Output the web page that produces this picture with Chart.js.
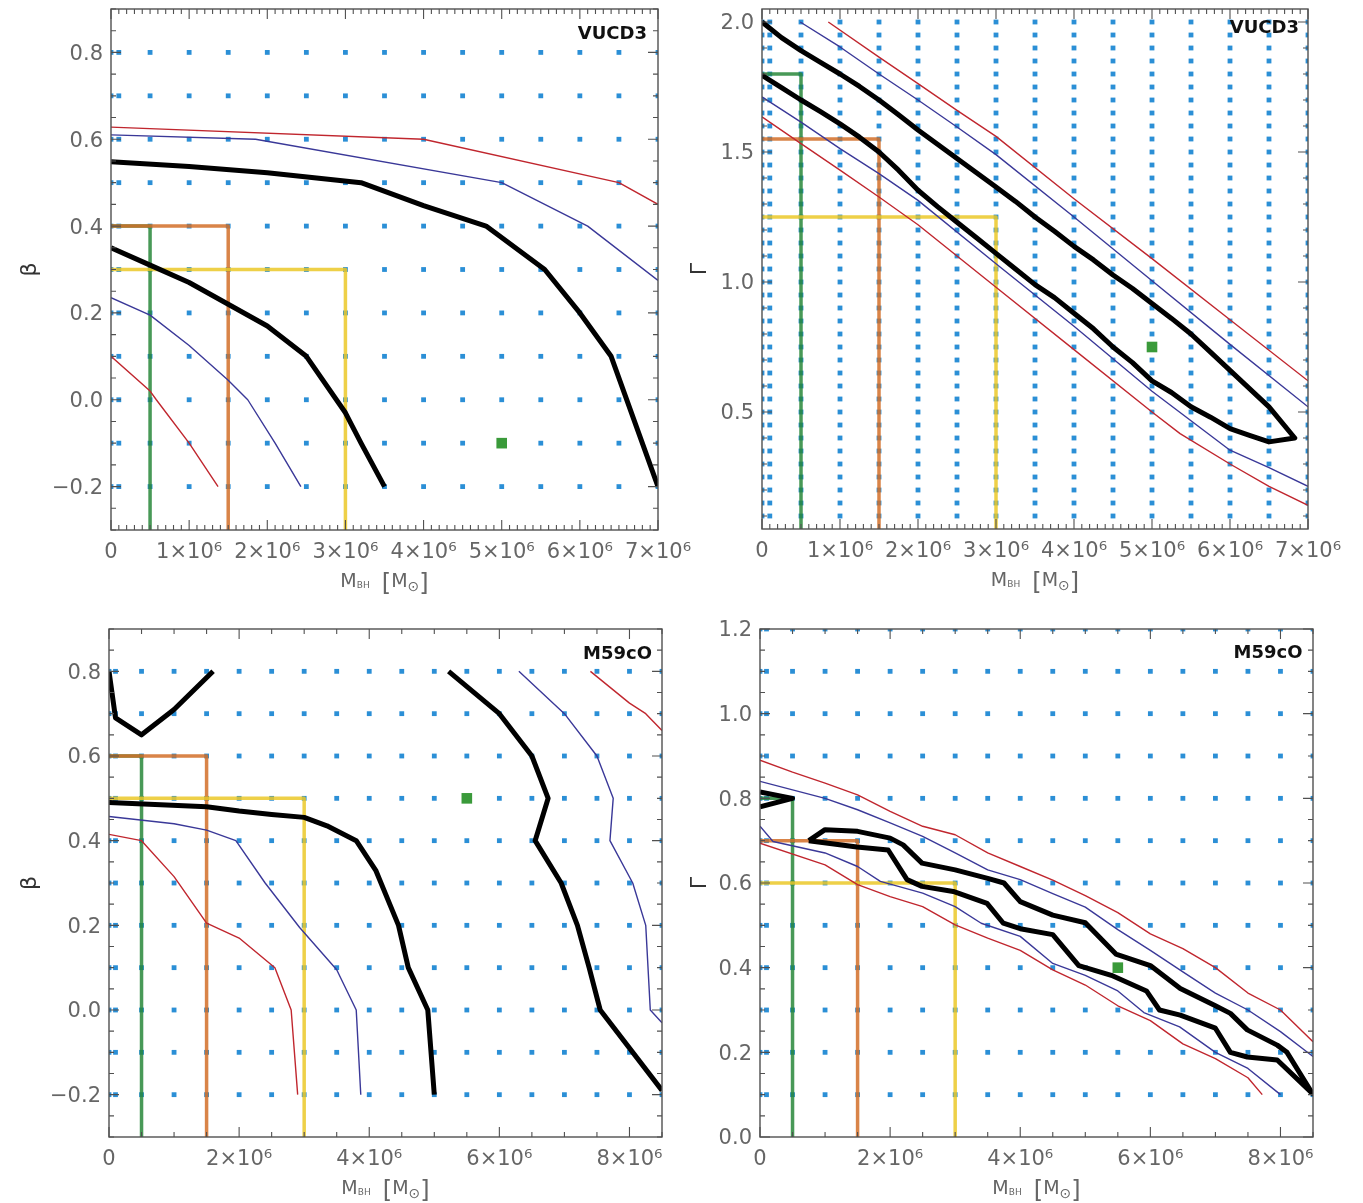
<!DOCTYPE html>
<html>
<head>
<meta charset="utf-8">
<title>VUCD3 / M59cO model grids</title>
<script src="https://cdn.jsdelivr.net/npm/chart.js@4.4.1/dist/chart.umd.min.js"></script>
<style>
  html, body { margin: 0; padding: 0; background: #fff; }
  #wrap { position: relative; width: 1363px; height: 1203px; overflow: hidden; }
  #wrap canvas { position: absolute; left: 0; top: 0; }
</style>
</head>
<body>
<div id="wrap">
  <canvas id="vucd3Beta" width="1363" height="1203"></canvas>
  <canvas id="vucd3Gamma" width="1363" height="1203"></canvas>
  <canvas id="m59coBeta" width="1363" height="1203"></canvas>
  <canvas id="m59coGamma" width="1363" height="1203"></canvas>
</div>
<script>
///////////////////////////////// DATA /////////////////////////////////////
// black hole masses are in units of 1e6 Msun

// model grid (blue dots)
const vucd3MassGrid = [0, 0.1, 0.5, 1, 1.5, 2, 2.5, 3, 3.5, 4, 4.5, 5, 5.5, 6, 6.5, 7];
const m59coMassGrid = [0, 0.1, 0.5, 1, 1.5, 2, 2.5, 3, 3.5, 4, 4.5, 5, 5.5, 6, 6.5, 7, 7.5, 8, 8.5];
const betaGrid = [-0.2, -0.1, 0, 0.1, 0.2, 0.3, 0.4, 0.5, 0.6, 0.7, 0.8];
const vucd3GammaGrid = [0.1, 0.15, 0.2, 0.25, 0.3, 0.35, 0.4, 0.45, 0.5, 0.55, 0.6, 0.65, 0.7,
  0.75, 0.8, 0.85, 0.9, 0.95, 1.0, 1.05, 1.1, 1.15, 1.2, 1.25, 1.3, 1.35, 1.4, 1.45, 1.5,
  1.55, 1.6, 1.65, 1.7, 1.75, 1.8, 1.85, 1.9, 1.95, 2.0];
const m59coGammaGrid = [0.1, 0.2, 0.3, 0.4, 0.5, 0.6, 0.7, 0.8, 0.9, 1.0, 1.1, 1.2];

// tick labels
const vucd3MassTicks = [0, 1, 2, 3, 4, 5, 6, 7];
const m59coMassTicks = [0, 2, 4, 6, 8];
const betaTicks = [-0.2, 0, 0.2, 0.4, 0.6, 0.8];
const vucd3GammaTicks = [0.5, 1.0, 1.5, 2.0];
const m59coGammaTicks = [0, 0.2, 0.4, 0.6, 0.8, 1.0, 1.2];

// best fit models (green squares)
const vucd3BetaBest = [5, -0.1];
const vucd3GammaBest = [5, 0.75];
const m59coBetaBest = [5.5, 0.5];
const m59coGammaBest = [5.5, 0.4];

// prior boxes [mass, value]
const vucd3BetaGreen = [[0, 0.4], [0.5, 0.4], [0.5, -0.3]];
const vucd3BetaOrange = [[0, 0.4], [1.5, 0.4], [1.5, -0.3]];
const vucd3BetaYellow = [[0, 0.3], [3, 0.3], [3, -0.3]];
const vucd3GammaGreen = [[0, 1.8], [0.5, 1.8], [0.5, 0.05]];
const vucd3GammaOrange = [[0, 1.55], [1.5, 1.55], [1.5, 0.05]];
const vucd3GammaYellow = [[0, 1.25], [3, 1.25], [3, 0.05]];
const m59coBetaGreen = [[0, 0.6], [0.5, 0.6], [0.5, -0.3]];
const m59coBetaOrange = [[0, 0.6], [1.5, 0.6], [1.5, -0.3]];
const m59coBetaYellow = [[0, 0.5], [3, 0.5], [3, -0.3]];
const m59coGammaGreen = [[0, 0.8], [0.5, 0.8], [0.5, 0]];
const m59coGammaOrange = [[0, 0.7], [1.5, 0.7], [1.5, 0]];
const m59coGammaYellow = [[0, 0.6], [3, 0.6], [3, 0]];

// VUCD3, beta: confidence contours
const vucd3BetaBlackIn = [[0, 0.35], [0.5, 0.31], [1.0, 0.27], [1.5, 0.22], [2.0, 0.17], [2.5, 0.1], [3.0, -0.03], [3.2, -0.1], [3.5, -0.2]];
const vucd3BetaBlackOut = [[0, 0.548], [1, 0.537], [2, 0.523], [3.2, 0.5], [4, 0.447], [4.8, 0.4], [5.55, 0.3], [6.0, 0.2], [6.4, 0.1], [7.0, -0.2]];
const vucd3BetaBlueIn = [[0, 0.235], [0.5, 0.195], [1.0, 0.125], [1.5, 0.045], [1.75, 0.0], [2.1, -0.1], [2.43, -0.2]];
const vucd3BetaBlueOut = [[0, 0.61], [1.85, 0.6], [5.0, 0.5], [6.1, 0.4], [7.0, 0.275]];
const vucd3BetaRedIn = [[0, 0.1], [0.5, 0.02], [0.58, 0.0], [1.0, -0.1], [1.37, -0.2]];
const vucd3BetaRedOut = [[0, 0.628], [4.0, 0.6], [6.5, 0.5], [7.0, 0.45]];

// VUCD3, gamma
const vucd3GammaBlack = [[0, 2.0], [0.25, 1.94], [0.5, 1.89], [0.75, 1.845], [1, 1.8], [1.25, 1.752], [1.5, 1.7],
  [1.75, 1.643], [2, 1.585], [2.25, 1.53], [2.5, 1.475], [2.75, 1.42], [3, 1.365], [3.25, 1.31], [3.5, 1.25],
  [3.75, 1.195], [4, 1.137], [4.25, 1.085], [4.5, 1.027], [4.75, 0.975], [5, 0.917], [5.25, 0.86], [5.5, 0.8],
  [5.75, 0.73], [6, 0.66], [6.25, 0.59], [6.5, 0.52], [6.83, 0.4], [6.5, 0.385], [6.25, 0.41], [6.0, 0.436],
  [5.75, 0.48], [5.5, 0.52], [5.25, 0.575], [5.0, 0.62], [4.75, 0.69], [4.5, 0.75], [4.25, 0.82], [4.0, 0.88],
  [3.75, 0.94], [3.5, 0.99], [3.25, 1.05], [3.0, 1.11], [2.75, 1.17], [2.5, 1.23], [2.25, 1.29], [2.0, 1.353],
  [1.75, 1.43], [1.5, 1.5], [1.25, 1.557], [1.0, 1.608], [0.75, 1.655], [0.5, 1.7], [0.25, 1.748], [0, 1.795]];
const vucd3GammaBlueUp = [[0.49, 2.0], [1, 1.904], [1.5, 1.8], [2, 1.7], [2.5, 1.596], [3, 1.49], [4, 1.25], [5, 1.005], [6, 0.76], [7, 0.52]];
const vucd3GammaRedUp = [[0.85, 2.0], [1.5, 1.865], [2, 1.763], [2.5, 1.66], [3, 1.56], [4, 1.32], [5, 1.09], [6, 0.855], [7, 0.62]];
const vucd3GammaBlueLow = [[0, 1.712], [0.5, 1.615], [1, 1.513], [1.5, 1.417], [2, 1.314], [3, 1.07], [4, 0.83], [5, 0.58], [6, 0.353], [6.5, 0.286], [7, 0.214]];
const vucd3GammaRedLow = [[0, 1.635], [0.5, 1.532], [1, 1.43], [1.5, 1.327], [2, 1.22], [3, 0.98], [4, 0.74], [5, 0.5], [5.36, 0.417], [6, 0.3], [6.5, 0.214], [7, 0.141]];

// M59cO, beta
const m59coBetaBlackV = [[0, 0.8], [0.1, 0.69], [0.5, 0.65], [1.0, 0.71], [1.6, 0.8]];
const m59coBetaBlackIn = [[0, 0.49], [1.5, 0.48], [2.0, 0.47], [2.5, 0.462], [3.0, 0.455], [3.35, 0.435], [3.8, 0.4], [4.1, 0.33], [4.45, 0.2], [4.6, 0.1], [4.9, 0.0], [5.0, -0.2]];
const m59coBetaBlackOut = [[5.22, 0.8], [6.0, 0.7], [6.5, 0.6], [6.75, 0.5], [6.55, 0.4], [6.95, 0.3], [7.2, 0.2], [7.38, 0.1], [7.55, 0.0], [8.5, -0.19]];
const m59coBetaBlueIn = [[0, 0.457], [1, 0.44], [1.5, 0.425], [1.95, 0.4], [2.4, 0.3], [2.93, 0.195], [3.5, 0.095], [3.8, 0.0], [3.87, -0.2]];
const m59coBetaBlueOut = [[6.3, 0.8], [7.0, 0.7], [7.5, 0.6], [7.75, 0.5], [7.7, 0.4], [8.05, 0.3], [8.25, 0.2], [8.32, 0.0], [8.5, -0.03]];
const m59coBetaRedIn = [[0, 0.415], [0.5, 0.4], [1.0, 0.315], [1.5, 0.205], [2.0, 0.17], [2.55, 0.1], [2.8, 0.0], [2.9, -0.2]];
const m59coBetaRedOut = [[7.4, 0.8], [8.0, 0.725], [8.25, 0.7], [8.5, 0.66]];

// M59cO, gamma
const m59coGammaBlackWedge = [[0, 0.815], [0.5, 0.8], [0, 0.78]];
const m59coGammaBlack = [[0.75, 0.7], [1.0, 0.726], [1.5, 0.722], [2.0, 0.706], [2.2, 0.69], [2.49, 0.647], [3.0, 0.631],
  [3.5, 0.611], [3.75, 0.6], [4.0, 0.556], [4.5, 0.524], [5.0, 0.506], [5.47, 0.432], [6.0, 0.405], [6.46, 0.351],
  [7.0, 0.31], [7.23, 0.292], [7.49, 0.253], [7.95, 0.217], [8.1, 0.2], [8.49, 0.103], [7.95, 0.182], [7.49, 0.189],
  [7.23, 0.2], [7.0, 0.257], [6.46, 0.288], [6.14, 0.3], [5.94, 0.345], [5.4, 0.382], [4.9, 0.405], [4.5, 0.478],
  [4.0, 0.492], [3.74, 0.505], [3.49, 0.552], [2.97, 0.58], [2.49, 0.592], [2.26, 0.608], [1.97, 0.678], [1.49, 0.685], [0.75, 0.7]];
const m59coGammaBlueUp = [[0, 0.84], [1, 0.8], [1.5, 0.773], [2, 0.742], [2.5, 0.71], [3, 0.671], [3.5, 0.631], [4, 0.608], [4.5, 0.575], [5, 0.543], [5.5, 0.49], [6, 0.441], [6.5, 0.39], [7, 0.34], [7.5, 0.3], [8, 0.249], [8.5, 0.19]];
const m59coGammaRedUp = [[0, 0.89], [0.5, 0.862], [1, 0.836], [1.5, 0.808], [2, 0.769], [2.5, 0.734], [3, 0.714], [3.5, 0.671], [4, 0.639], [4.5, 0.607], [5, 0.57], [5.5, 0.53], [6, 0.48], [6.5, 0.445], [7, 0.4], [7.5, 0.34], [8, 0.3], [8.5, 0.225]];
const m59coGammaBlueLow = [[0, 0.734], [0.2, 0.698], [1, 0.671], [1.5, 0.639], [1.85, 0.604], [2.5, 0.576], [3, 0.544], [3.4, 0.505], [4, 0.474], [4.5, 0.41], [5, 0.382], [5.5, 0.345], [5.9, 0.294], [6.45, 0.26], [7, 0.2], [7.5, 0.162], [8, 0.1]];
const m59coGammaRedLow = [[0, 0.694], [1, 0.643], [1.5, 0.596], [2, 0.568], [2.5, 0.544], [3, 0.501], [3.5, 0.47], [4, 0.441], [4.5, 0.395], [5, 0.359], [5.5, 0.31], [6, 0.275], [6.5, 0.22], [7, 0.185], [7.5, 0.14], [7.72, 0.1]];

///////////////////////////////// STYLE /////////////////////////////////////
const FONT = "'DejaVu Sans', sans-serif";
const TEXT = '#666666';
const AXIS = '#505050';
const DOT = '#2b8fd6';
const BLACK = '#000000';
const BLUE = '#3a3898';
const RED = '#c0262e';
const GREEN = 'rgba(40,135,58,0.85)';
const ORANGE = 'rgba(210,110,40,0.85)';
const YELLOW = 'rgba(235,200,40,0.85)';
const BEST = '#3a9a3a';

///////////////////////////////// HELPERS /////////////////////////////////////
const pts = arr => arr.map(([x, y]) => ({x, y}));

function gridDots(xs, ys) {
  const data = [];
  ys.forEach(y => xs.forEach(x => data.push({x, y})));
  return {data, pointStyle: 'rect', pointRadius: 3.4, backgroundColor: DOT, borderWidth: 0, clip: 0, order: 10};
}

function curve(arr, color, width, order) {
  return {data: pts(arr), showLine: true, borderColor: color, borderWidth: width,
          pointRadius: 0, borderJoinStyle: 'round', order};
}

function steps(min, max, step) {
  const out = [];
  for (let v = Math.ceil(min / step - 1e-6) * step; v <= max + 1e-6; v += step) out.push(v);
  return out;
}

// IDL style frame: inward ticks on all four sides, axis title with subscripts, object name
function idlAxes(cfg) {
  return {
    id: 'idlAxes',
    afterDatasetsDraw(chart) {
      const {ctx, chartArea: a} = chart;
      const xs = chart.scales.x, ys = chart.scales.y;
      ctx.save();
      ctx.strokeStyle = AXIS;
      ctx.lineWidth = 1.1;
      ctx.beginPath();
      const xTick = (v, len) => {
        const p = xs.getPixelForValue(v);
        ctx.moveTo(p, a.bottom); ctx.lineTo(p, a.bottom - len);
        ctx.moveTo(p, a.top); ctx.lineTo(p, a.top + len);
      };
      const yTick = (v, len) => {
        const p = ys.getPixelForValue(v);
        ctx.moveTo(a.left, p); ctx.lineTo(a.left + len, p);
        ctx.moveTo(a.right, p); ctx.lineTo(a.right - len, p);
      };
      steps(xs.min, xs.max, cfg.xMinor).forEach(v => xTick(v, 5));
      cfg.xMajor.forEach(v => xTick(v, 10));
      steps(ys.min, ys.max, cfg.yMinor).forEach(v => yTick(v, 5));
      cfg.yMajor.forEach(v => yTick(v, 10));
      ctx.stroke();
      ctx.lineWidth = 1.4;
      ctx.strokeRect(a.left, a.top, a.right - a.left, a.bottom - a.top);

      // object name
      ctx.fillStyle = '#111';
      ctx.font = `bold 18px ${FONT}`;
      ctx.textAlign = 'right';
      ctx.textBaseline = 'middle';
      ctx.fillText(cfg.name, a.right - cfg.nameDx, a.top + cfg.nameDy);
      ctx.restore();
    },
    afterDraw(chart) {
      const {ctx, chartArea: a} = chart;
      const parts = [
        {t: 'M', f: `19px ${FONT}`, dy: 0},
        {t: 'BH', f: `9px ${FONT}`, dy: 1},
        {t: '  ', f: `19px ${FONT}`, dy: 0},
        {t: '[', f: `24px ${FONT}`, dy: 4},
        {t: 'M', f: `19px ${FONT}`, dy: 0},
        {t: '⊙', f: `14px ${FONT}`, dy: 4},
        {t: ']', f: `24px ${FONT}`, dy: 4},
      ];
      ctx.save();
      ctx.fillStyle = TEXT;
      ctx.textBaseline = 'alphabetic';
      ctx.textAlign = 'left';
      let total = 0;
      parts.forEach(p => { ctx.font = p.f; p.w = ctx.measureText(p.t).width; total += p.w; });
      let x = (a.left + a.right) / 2 - total / 2;
      const base = a.bottom + 57;
      parts.forEach(p => { ctx.font = p.f; ctx.fillText(p.t, x, base + p.dy); x += p.w; });
      ctx.restore();
    }
  };
}

const massLabel = v => v === 0 ? '0' : v + '×10⁶';
const valueLabel = v => (v < 0 ? '−' : '') + Math.abs(v).toFixed(1);

///////////////////////////////// PANEL /////////////////////////////////////
function panel(id, p) {
  const tickFont = {family: FONT, size: 21, weight: 'normal'};
  return new Chart(document.getElementById(id), {
    type: 'scatter',
    data: {datasets: p.datasets},
    options: {
      responsive: false,
      animation: false,
      layout: {padding: p.pad},
      plugins: {legend: {display: false}, tooltip: {enabled: false}},
      scales: {
        x: {
          type: 'linear', min: p.xMin, max: p.xMax,
          grid: {display: false, drawTicks: false}, border: {display: false},
          ticks: {autoSkip: false, maxRotation: 0, padding: 10, font: tickFont, color: TEXT, callback: massLabel},
          afterBuildTicks: s => { s.ticks = p.xTicks.map(v => ({value: v})); },
          afterFit: s => { s.height = p.xH; s.paddingLeft = 0; s.paddingRight = 0; }
        },
        y: {
          type: 'linear', min: p.yMin, max: p.yMax,
          grid: {display: false, drawTicks: false}, border: {display: false},
          ticks: {autoSkip: false, padding: 8, labelOffset: 2, font: tickFont, color: TEXT, callback: valueLabel},
          title: {display: true, text: p.yTitle, color: '#333', font: {family: FONT, size: 22}, padding: {top: p.titlePad, bottom: 0}},
          afterBuildTicks: s => { s.ticks = p.yTicks.map(v => ({value: v})); },
          afterFit: s => { s.width = p.yW; s.paddingTop = 0; s.paddingBottom = 0; }
        }
      }
    },
    plugins: [idlAxes(p.frame)]
  });
}

function datasets(grid, priors, reds, blues, blacks, best) {
  const ds = [gridDots(grid[0], grid[1])];
  priors.forEach((arr, i) => ds.push(curve(arr, [GREEN, ORANGE, YELLOW][i], 3.5, 8 - i)));
  reds.forEach(arr => ds.push(curve(arr, RED, 1.4, 4)));
  blues.forEach(arr => ds.push(curve(arr, BLUE, 1.4, 4)));
  blacks.forEach(arr => ds.push(curve(arr, BLACK, 5, 2)));
  ds.push({data: pts([best]), pointStyle: 'rect', pointRadius: 7.5, backgroundColor: BEST, borderWidth: 0, order: 1});
  return ds;
}

///////////////////////////////// CHARTS /////////////////////////////////////
panel('vucd3Beta', {
  pad: {left: 0, top: 9, right: 705, bottom: 603}, yW: 111, xH: 70, titlePad: 17,
  xMin: 0, xMax: 7, yMin: -0.3, yMax: 0.9, xTicks: vucd3MassTicks, yTicks: betaTicks, yTitle: 'β',
  frame: {xMajor: vucd3MassTicks, xMinor: 0.1, yMajor: betaTicks, yMinor: 0.05, name: 'VUCD3', nameDx: 11, nameDy: 25.5},
  datasets: datasets([vucd3MassGrid, betaGrid], [vucd3BetaGreen, vucd3BetaOrange, vucd3BetaYellow],
    [vucd3BetaRedIn, vucd3BetaRedOut], [vucd3BetaBlueIn, vucd3BetaBlueOut],
    [vucd3BetaBlackIn, vucd3BetaBlackOut], vucd3BetaBest)
});

panel('vucd3Gamma', {
  pad: {left: 681, top: 9, right: 55, bottom: 603}, yW: 81, xH: 71, titlePad: 6,
  xMin: 0, xMax: 7, yMin: 0.05, yMax: 2.05, xTicks: vucd3MassTicks, yTicks: vucd3GammaTicks, yTitle: 'Γ',
  frame: {xMajor: vucd3MassTicks, xMinor: 0.1, yMajor: vucd3GammaTicks, yMinor: 0.1, name: 'VUCD3', nameDx: 9, nameDy: 19},
  datasets: datasets([vucd3MassGrid, vucd3GammaGrid], [vucd3GammaGreen, vucd3GammaOrange, vucd3GammaYellow],
    [vucd3GammaRedUp, vucd3GammaRedLow], [vucd3GammaBlueUp, vucd3GammaBlueLow],
    [vucd3GammaBlack], vucd3GammaBest)
});

panel('m59coBeta', {
  pad: {left: 0, top: 629, right: 701, bottom: 0}, yW: 109, xH: 66, titlePad: 17,
  xMin: 0, xMax: 8.5, yMin: -0.3, yMax: 0.9, xTicks: m59coMassTicks, yTicks: betaTicks, yTitle: 'β',
  frame: {xMajor: m59coMassTicks, xMinor: 0.5, yMajor: betaTicks, yMinor: 0.05, name: 'M59cO', nameDx: 10, nameDy: 25.5},
  datasets: datasets([m59coMassGrid, betaGrid], [m59coBetaGreen, m59coBetaOrange, m59coBetaYellow],
    [m59coBetaRedIn, m59coBetaRedOut], [m59coBetaBlueIn, m59coBetaBlueOut],
    [m59coBetaBlackV, m59coBetaBlackIn, m59coBetaBlackOut], m59coBetaBest)
});

panel('m59coGamma', {
  pad: {left: 681, top: 629, right: 50, bottom: 0}, yW: 79, xH: 66, titlePad: 6,
  xMin: 0, xMax: 8.5, yMin: 0, yMax: 1.2, xTicks: m59coMassTicks, yTicks: m59coGammaTicks, yTitle: 'Γ',
  frame: {xMajor: m59coMassTicks, xMinor: 0.5, yMajor: m59coGammaTicks, yMinor: 0.05, name: 'M59cO', nameDx: 10.5, nameDy: 24.5},
  datasets: datasets([m59coMassGrid, m59coGammaGrid], [m59coGammaGreen, m59coGammaOrange, m59coGammaYellow],
    [m59coGammaRedUp, m59coGammaRedLow], [m59coGammaBlueUp, m59coGammaBlueLow],
    [m59coGammaBlackWedge, m59coGammaBlack], m59coGammaBest)
});
</script>
</body>
</html>
